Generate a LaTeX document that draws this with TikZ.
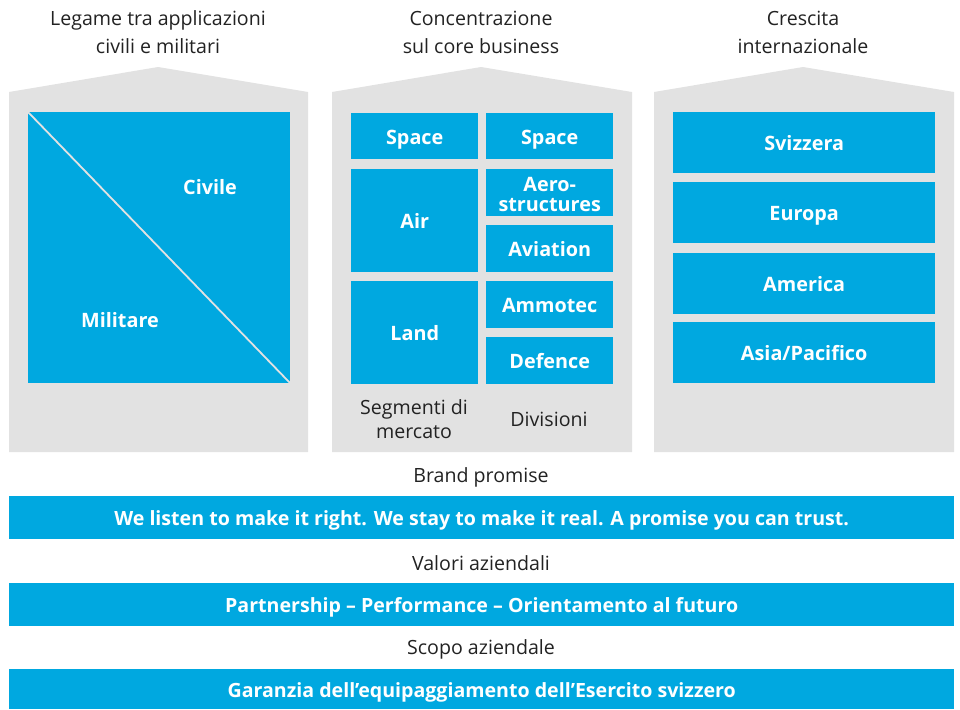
\documentclass[tikz,border=0pt]{standalone}
\usepackage{fontspec}
\setmainfont{Open Sans}
\definecolor{sblue}{HTML}{00A8E0}
\definecolor{sgray}{HTML}{E2E2E2}
\definecolor{stext}{HTML}{222222}
\begin{document}
\begin{tikzpicture}[x=1pt,y=-1pt,
  house/.style={fill=sgray,draw=none},
  bbox/.style={fill=sblue,draw=none,text=white,inner sep=0pt,anchor=north west,align=center,font=\fontsize{19.8}{20}\selectfont\bfseries,text height=16pt,text depth=0pt},
  band/.style={fill=sblue,draw=none,text=white,inner sep=0pt,anchor=north west,font=\fontsize{19.6}{20}\selectfont\bfseries,minimum width=945pt,text height=16pt,text depth=0pt},
  lbl/.style={text=stext,inner sep=0pt,align=center,font=\fontsize{19.6}{28}\selectfont}]
\useasboundingbox (0,0) rectangle (960,709);
% houses
\fill[house] (9,452) -- (9,92) -- (158,67) -- (308,92) -- (308,452) -- cycle;
\fill[house] (332,452) -- (332,92) -- (481,67) -- (632,92) -- (632,452) -- cycle;
\fill[house] (654,452) -- (654,92) -- (803,67) -- (954,92) -- (954,452) -- cycle;
% titles
\node[lbl] (t1) at (158,32) {Legame tra applicazioni\\civili e militari};
\node[lbl] (t2) at (481,32) {Concentrazione\\sul core business};
\node[lbl] (t3) at (803,32) {Crescita\\internazionale};
% left square
\node[bbox,minimum width=262pt,minimum height=271pt] (sq) at (28,112) {};
\draw[sgray,line width=1.8pt] (sq.north west) -- (sq.south east);
\node[text=white,font=\fontsize{19.8}{20}\selectfont\bfseries] (civ) at (210,187) {Civile};
\node[text=white,font=\fontsize{19.8}{20}\selectfont\bfseries] (mil) at (120,320) {Militare};
% middle boxes
\node[bbox,minimum width=127pt,minimum height=46pt] (s1) at (351,113) {Space};
\node[bbox,minimum width=127pt,minimum height=46pt] (s2) at (486,113) {Space};
\node[bbox,minimum width=127pt,minimum height=103pt] (air) at (351,169) {Air};
\node[bbox,minimum width=127pt,minimum height=47pt] (aer) at (486,169) {};
\node[text=white,inner sep=0pt,align=center,font=\fontsize{19.8}{20}\selectfont\bfseries] (aert) at ([yshift=-2pt]aer.center) {Aero-\\structures};
\node[bbox,minimum width=127pt,minimum height=47pt] (avi) at (486,225) {Aviation};
\node[bbox,minimum width=127pt,minimum height=103pt] (land) at (351,281) {Land};
\node[bbox,minimum width=127pt,minimum height=47pt] (amm) at (486,281) {Ammotec};
\node[bbox,minimum width=127pt,minimum height=47pt] (def) at (486,337) {Defence};
\node[lbl,font=\fontsize{19.6}{24}\selectfont] (seg) at (414,419) {Segmenti di\\mercato};
\node[lbl] (div) at (549,419) {Divisioni};
% right boxes
\node[bbox,minimum width=262pt,minimum height=61pt] (ch) at (673,112) {Svizzera};
\node[bbox,minimum width=262pt,minimum height=61pt] (eu) at (673,182) {Europa};
\node[bbox,minimum width=262pt,minimum height=61pt] (am) at (673,253) {America};
\node[bbox,minimum width=262pt,minimum height=61pt] (as) at (673,322) {Asia/Pacifico};
% bands
\node[lbl] (bp) at (481,477) {Brand promise};
\node[band,minimum height=43pt] (b1) at (9,496) {We listen to make it right. We stay to make it real. A promise you can trust.};
\node[lbl] (va) at (481,563) {Valori aziendali};
\node[band,minimum height=43pt] (b2) at (9,583) {Partnership -- Performance -- Orientamento al futuro};
\node[lbl] (sa) at (481,649) {Scopo aziendale};
\node[band,minimum height=40pt] (b3) at (9,669) {Garanzia dell’equipaggiamento dell’Esercito svizzero};
\end{tikzpicture}
\end{document}
